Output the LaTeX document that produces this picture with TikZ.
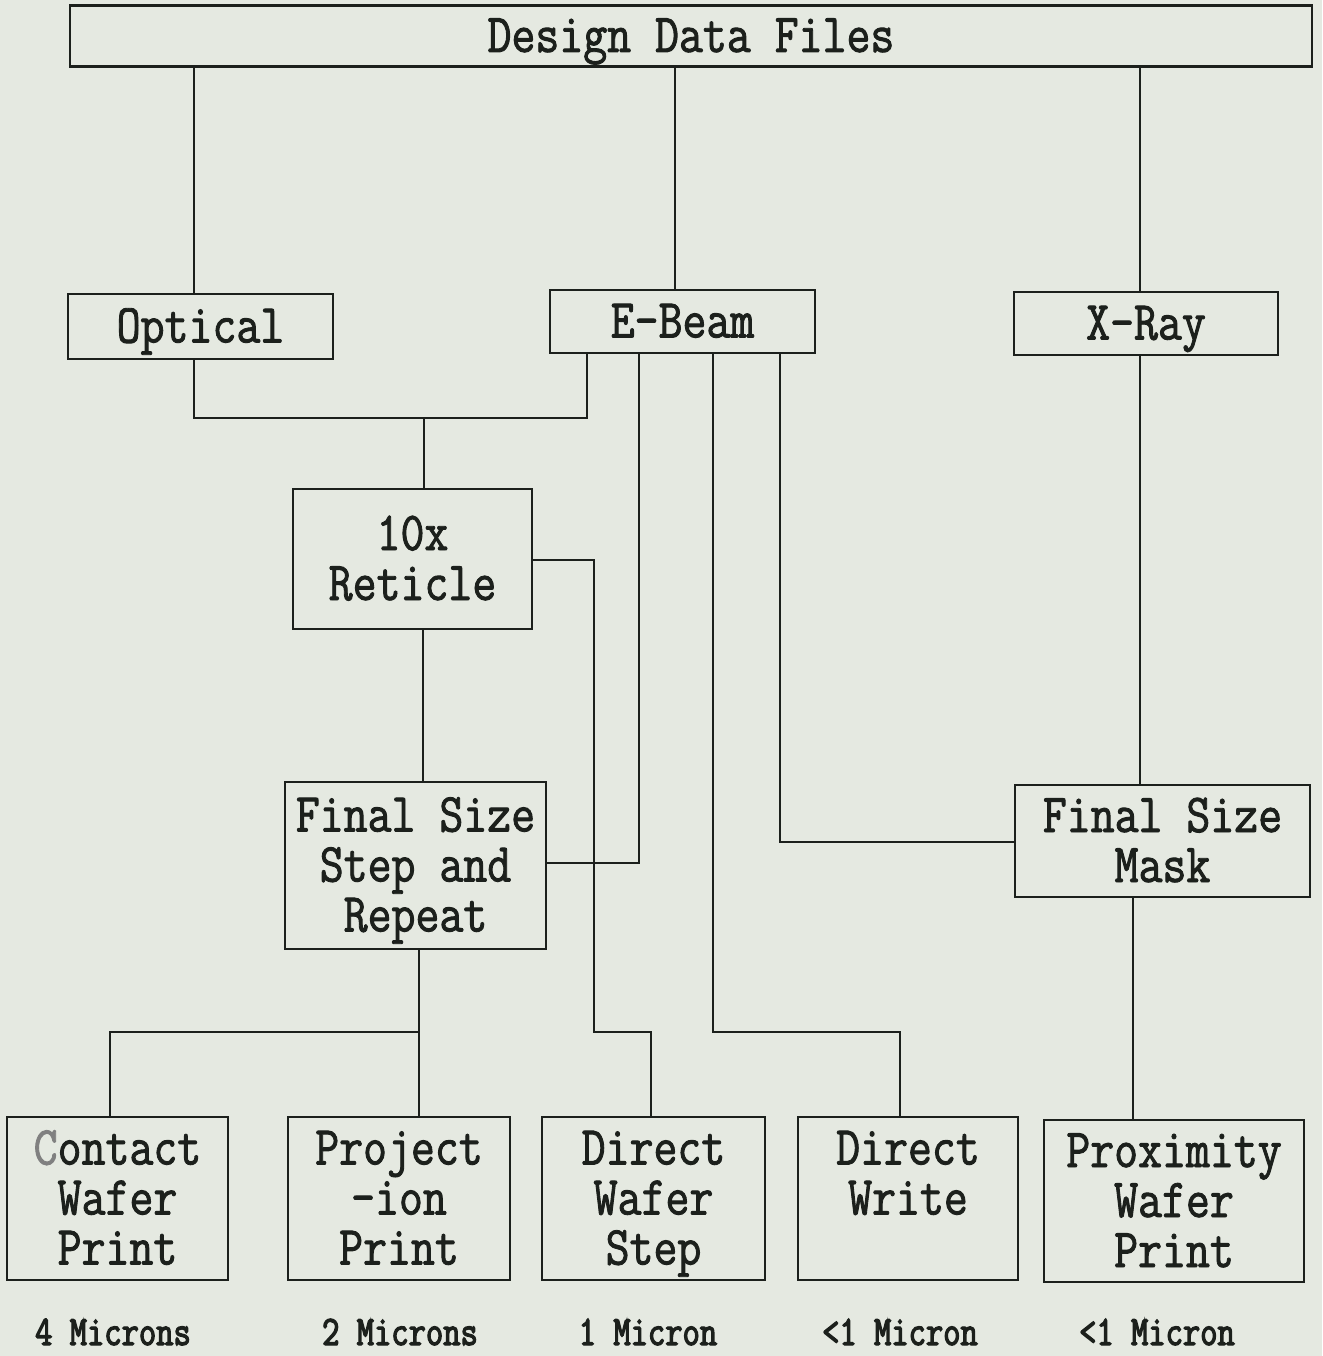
\documentclass[tikz,border=0pt]{standalone}
\usepackage{fontspec}
\setmainfont[FakeStretch=0.845,FakeBold=1.6]{Latin Modern Mono}
\newfontfamily\labfont[FakeStretch=0.8,FakeBold=3]{Latin Modern Mono}
\definecolor{ink}{RGB}{28,32,28}
\definecolor{paper}{RGB}{229,233,225}
\begin{document}
\begin{tikzpicture}[x=1pt,y=-1pt,
  box/.style={draw=ink, line width=2.2pt, inner sep=0pt, align=center, text=ink,
    font=\fontsize{55}{50}\selectfont, text depth=0pt},
  one/.style={text height=32pt},
  two/.style={text height=82pt},
  three/.style={text height=132pt},
  wire/.style={draw=ink, line width=2pt},
  lab/.style={text=ink, inner sep=0pt, font=\labfont\fontsize{42}{44}\selectfont}]
\fill[paper] (0,0) rectangle (1322,1356);
\useasboundingbox (0,0) rectangle (1322,1356);

% boxes
\node[box, one, minimum width=1242, minimum height=61] (ddf) at (691,36) {Design Data Files};
\node[box, one, minimum width=265, minimum height=65] (opt) at (200.5,326.5) {Optical};
\node[box, one, minimum width=265, minimum height=63] (ebeam) at (682.5,321.5) {E-Beam};
\node[box, one, minimum width=264, minimum height=63] (xray) at (1146,323.5) {X-Ray};
\node[box, two, minimum width=239, minimum height=140] (ret) at (412.5,559) {10x\\Reticle};
\node[box, three, minimum width=261, minimum height=167] (fssr) at (415.5,865.5) {Final Size\\Step and\\Repeat};
\node[box, two, minimum width=295, minimum height=112] (fsm) at (1162.5,841) {Final Size\\Mask};
\node[box, three, minimum width=221, minimum height=163] (contact) at (117.5,1198.5) {{\color{gray}C}ontact\\Wafer\\Print};
\node[box, three, minimum width=222, minimum height=163] (proj) at (399,1198.5) {Project\\-ion\\Print};
\node[box, three, minimum width=223, minimum height=163] (dws) at (653.5,1198.5) {Direct\\Wafer\\Step};
\node[box, two, text depth=50pt, minimum width=220, minimum height=163] (dw) at (908,1198.5) {Direct\\Write};
\node[box, three, minimum width=260, minimum height=162] (prox) at (1174,1201) {Proximity\\Wafer\\Print};

% bottom labels
\node[lab, anchor=base] (l1) at (113,1345) {4 Microns};
\node[lab, anchor=base] (l2) at (400,1345) {2 Microns};
\node[lab, anchor=base] (l3) at (648,1345) {1 Micron};
\node[lab, anchor=base] (l4) at (900,1345) {<1 Micron};
\node[lab, anchor=base] (l5) at (1157,1345) {<1 Micron};

% helper coordinates
\coordinate (lowbus) at (0,1032);
\coordinate (j1) at (424,418);
\coordinate (r1) at (594,560);
\coordinate (e1) at (639,863);
\coordinate (e3) at (780,842);

% connectors
\draw[wire] ([xshift=-6.5]opt.north) -- ([xshift=-6.5]opt.north |- ddf.south);
\draw[wire] ([xshift=-7.5]ebeam.north) -- ([xshift=-7.5]ebeam.north |- ddf.south);
\draw[wire] ([xshift=-6]xray.north) -- ([xshift=-6]xray.north |- ddf.south);

\draw[wire] ([xshift=-6.5]opt.south) |- (j1) -| ([xshift=-95.5]ebeam.south);
\draw[wire] (j1) -- (j1 |- ret.north);

\draw[wire] (ret.east |- r1) -- (r1) -- (r1 |- lowbus) -| ([xshift=-3]dws.north);
\draw[wire] ([xshift=10.5]ret.south) -- ([xshift=10.5]ret.south |- fssr.north);

\draw[wire] (e1 |- ebeam.south) -- (e1) -- (e1 -| fssr.east);
\draw[wire] ([xshift=30]ebeam.south) -- ([xshift=30]ebeam.south |- lowbus) -| ([xshift=-8]dw.north);
\draw[wire] (e3 |- ebeam.south) -- (e3) -- (e3 -| fsm.west);

\draw[wire] ([xshift=-6]xray.south) -- ([xshift=-6]xray.south |- fsm.north);
\draw[wire] ([xshift=-41]prox.north) -- ([xshift=-41]prox.north |- fsm.south);

\draw[wire] ([xshift=20]proj.north) -- ([xshift=20]proj.north |- fssr.south);
\draw[wire] ([xshift=20]proj.north |- lowbus) -| ([xshift=-7.5]contact.north);
\end{tikzpicture}
\end{document}
